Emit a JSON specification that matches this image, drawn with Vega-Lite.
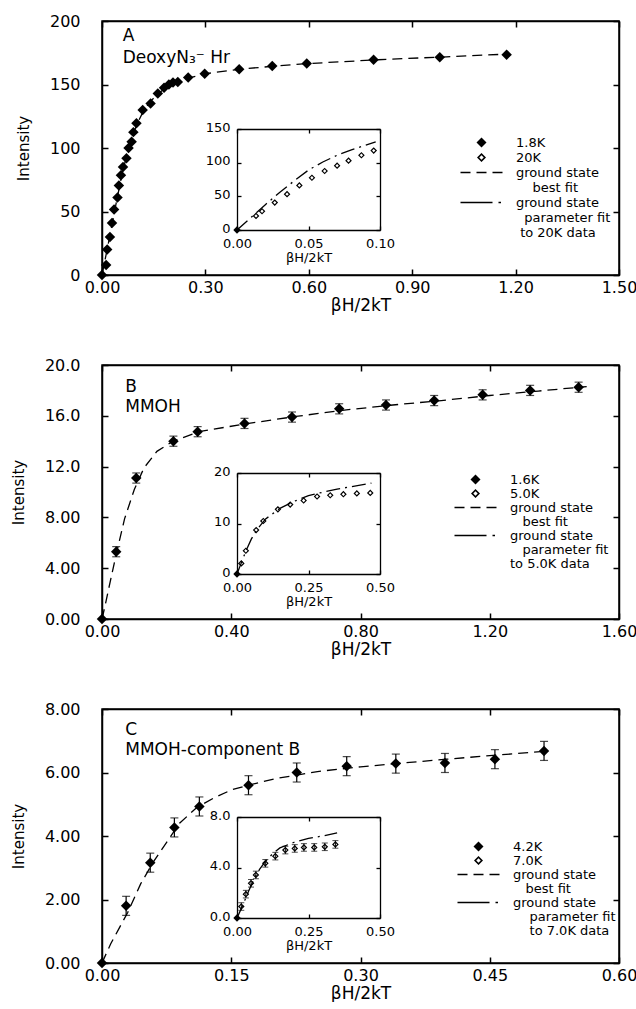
{
  "$schema": "https://vega.github.io/schema/vega-lite/v6.json",
  "padding": {"left": 10, "top": 12, "right": 0, "bottom": 0},
  "datasets": {
    "A_main": [
      {"x":0,"y":0,"series":"1.8K"},{"x":0.012,"y":7.8,"series":"1.8K"},{"x":0.015,"y":20,"series":"1.8K"},{"x":0.023,"y":30,"series":"1.8K"},
      {"x":0.029,"y":41,"series":"1.8K"},{"x":0.035,"y":51.5,"series":"1.8K"},{"x":0.045,"y":61,"series":"1.8K"},{"x":0.049,"y":70.5,"series":"1.8K"},
      {"x":0.055,"y":78.5,"series":"1.8K"},{"x":0.061,"y":85,"series":"1.8K"},{"x":0.071,"y":92,"series":"1.8K"},{"x":0.077,"y":100,"series":"1.8K"},
      {"x":0.086,"y":105,"series":"1.8K"},{"x":0.091,"y":112.5,"series":"1.8K"},{"x":0.1,"y":119.5,"series":"1.8K"},{"x":0.118,"y":130,"series":"1.8K"},
      {"x":0.141,"y":135,"series":"1.8K"},{"x":0.162,"y":143,"series":"1.8K"},{"x":0.18,"y":147.5,"series":"1.8K"},{"x":0.194,"y":150,"series":"1.8K"},
      {"x":0.206,"y":151.5,"series":"1.8K"},{"x":0.22,"y":152,"series":"1.8K"},{"x":0.25,"y":155.5,"series":"1.8K"},{"x":0.298,"y":158.5,"series":"1.8K"},
      {"x":0.398,"y":162,"series":"1.8K"},{"x":0.494,"y":164.5,"series":"1.8K"},{"x":0.594,"y":166.5,"series":"1.8K"},{"x":0.788,"y":169.5,"series":"1.8K"},
      {"x":0.98,"y":171.5,"series":"1.8K"},{"x":1.174,"y":173.5,"series":"1.8K"}
    ],
    "A_fit": [
      {"x":0,"y":0},{"x":0.02,"y":27},{"x":0.04,"y":55},{"x":0.06,"y":82},{"x":0.08,"y":102},{"x":0.1,"y":118},{"x":0.12,"y":129},
      {"x":0.14,"y":136.5},{"x":0.16,"y":142},{"x":0.18,"y":146.5},{"x":0.2,"y":150},{"x":0.25,"y":155},{"x":0.3,"y":158.5},{"x":0.4,"y":162},
      {"x":0.5,"y":164.5},{"x":0.6,"y":166.5},{"x":0.8,"y":169.5},{"x":1.0,"y":171.8},{"x":1.18,"y":174}
    ],
    "A_inset": [
      {"x":0,"y":0,"series":"1.8K"},{"x":0.0133,"y":20.9,"series":"20K"},{"x":0.0175,"y":27.9,"series":"20K"},{"x":0.0264,"y":40.7,"series":"20K"},
      {"x":0.035,"y":53.2,"series":"20K"},{"x":0.0436,"y":66.2,"series":"20K"},{"x":0.0524,"y":77.6,"series":"20K"},{"x":0.0613,"y":87.6,"series":"20K"},
      {"x":0.07,"y":95.5,"series":"20K"},{"x":0.078,"y":103,"series":"20K"},{"x":0.087,"y":111,"series":"20K"},{"x":0.0956,"y":118,"series":"20K"}
    ],
    "A_param": [
      {"x":0,"y":0},{"x":0.01,"y":19},{"x":0.02,"y":38},{"x":0.03,"y":56},{"x":0.04,"y":73},{"x":0.05,"y":89},{"x":0.06,"y":101},
      {"x":0.07,"y":111},{"x":0.08,"y":119},{"x":0.09,"y":126},{"x":0.097,"y":131}
    ],
    "B_main": [
      {"x":0,"y":0,"series":"1.6K"},
      {"x":0.044,"y":5.3,"lo":4.9,"hi":5.7,"series":"1.6K"},{"x":0.106,"y":11.1,"lo":10.7,"hi":11.5,"series":"1.6K"},
      {"x":0.221,"y":14.0,"lo":13.6,"hi":14.4,"series":"1.6K"},{"x":0.296,"y":14.75,"lo":14.35,"hi":15.15,"series":"1.6K"},
      {"x":0.441,"y":15.4,"lo":15.0,"hi":15.8,"series":"1.6K"},{"x":0.588,"y":15.9,"lo":15.5,"hi":16.3,"series":"1.6K"},
      {"x":0.734,"y":16.55,"lo":16.15,"hi":16.95,"series":"1.6K"},{"x":0.879,"y":16.85,"lo":16.45,"hi":17.25,"series":"1.6K"},
      {"x":1.028,"y":17.2,"lo":16.8,"hi":17.6,"series":"1.6K"},{"x":1.178,"y":17.65,"lo":17.25,"hi":18.05,"series":"1.6K"},
      {"x":1.325,"y":18.0,"lo":17.6,"hi":18.4,"series":"1.6K"},{"x":1.475,"y":18.25,"lo":17.85,"hi":18.65,"series":"1.6K"}
    ],
    "B_fit": [
      {"x":0,"y":0},{"x":0.01,"y":1.1},{"x":0.02,"y":2.3},{"x":0.044,"y":5.1},{"x":0.07,"y":7.9},{"x":0.1,"y":10.2},{"x":0.13,"y":11.9},
      {"x":0.17,"y":13.2},{"x":0.22,"y":14.0},{"x":0.3,"y":14.75},{"x":0.44,"y":15.35},{"x":0.6,"y":15.95},{"x":0.75,"y":16.45},
      {"x":0.9,"y":16.85},{"x":1.05,"y":17.2},{"x":1.2,"y":17.6},{"x":1.35,"y":17.95},{"x":1.5,"y":18.3}
    ],
    "B_inset": [
      {"x":0,"y":0,"series":"1.6K"},{"x":0.015,"y":2.1,"series":"5.0K"},{"x":0.031,"y":4.6,"series":"5.0K"},{"x":0.067,"y":8.7,"series":"5.0K"},
      {"x":0.092,"y":10.5,"series":"5.0K"},{"x":0.143,"y":12.8,"series":"5.0K"},{"x":0.186,"y":13.75,"series":"5.0K"},{"x":0.233,"y":14.55,"series":"5.0K"},
      {"x":0.28,"y":15.35,"series":"5.0K"},{"x":0.326,"y":15.6,"series":"5.0K"},{"x":0.372,"y":15.8,"series":"5.0K"},{"x":0.419,"y":15.95,"series":"5.0K"},
      {"x":0.466,"y":16.05,"series":"5.0K"}
    ],
    "B_param": [
      {"x":0,"y":0},{"x":0.015,"y":2.2},{"x":0.03,"y":4.4},{"x":0.05,"y":6.9},{"x":0.07,"y":8.8},{"x":0.1,"y":10.9},{"x":0.15,"y":13.0},
      {"x":0.2,"y":14.4},{"x":0.25,"y":15.5},{"x":0.3,"y":16.2},{"x":0.35,"y":16.8},{"x":0.4,"y":17.3},{"x":0.47,"y":18.0}
    ],
    "C_main": [
      {"x":0,"y":0,"series":"4.2K"},
      {"x":0.028,"y":1.8,"lo":1.5,"hi":2.1,"series":"4.2K"},{"x":0.056,"y":3.16,"lo":2.86,"hi":3.46,"series":"4.2K"},
      {"x":0.084,"y":4.27,"lo":3.97,"hi":4.57,"series":"4.2K"},{"x":0.113,"y":4.93,"lo":4.63,"hi":5.23,"series":"4.2K"},
      {"x":0.17,"y":5.6,"lo":5.3,"hi":5.9,"series":"4.2K"},{"x":0.226,"y":6.0,"lo":5.7,"hi":6.3,"series":"4.2K"},
      {"x":0.284,"y":6.2,"lo":5.9,"hi":6.5,"series":"4.2K"},{"x":0.341,"y":6.28,"lo":5.98,"hi":6.58,"series":"4.2K"},
      {"x":0.398,"y":6.3,"lo":6.0,"hi":6.6,"series":"4.2K"},{"x":0.456,"y":6.42,"lo":6.12,"hi":6.72,"series":"4.2K"},
      {"x":0.513,"y":6.68,"lo":6.38,"hi":6.98,"series":"4.2K"}
    ],
    "C_fit": [
      {"x":0,"y":0},{"x":0.01,"y":0.6},{"x":0.02,"y":1.1},{"x":0.03,"y":1.6},{"x":0.045,"y":2.5},{"x":0.06,"y":3.2},{"x":0.075,"y":3.8},
      {"x":0.09,"y":4.4},{"x":0.11,"y":4.9},{"x":0.13,"y":5.2},{"x":0.15,"y":5.45},{"x":0.17,"y":5.6},{"x":0.2,"y":5.8},{"x":0.25,"y":6.03},
      {"x":0.3,"y":6.18},{"x":0.35,"y":6.3},{"x":0.4,"y":6.42},{"x":0.45,"y":6.53},{"x":0.515,"y":6.67}
    ],
    "C_inset": [
      {"x":0,"y":0,"series":"4.2K"},
      {"x":0.015,"y":0.91,"lo":0.61,"hi":1.21,"series":"7.0K"},{"x":0.031,"y":1.89,"lo":1.59,"hi":2.19,"series":"7.0K"},
      {"x":0.049,"y":2.75,"lo":2.45,"hi":3.05,"series":"7.0K"},{"x":0.066,"y":3.41,"lo":3.11,"hi":3.71,"series":"7.0K"},
      {"x":0.099,"y":4.33,"lo":4.03,"hi":4.63,"series":"7.0K"},{"x":0.134,"y":4.9,"lo":4.6,"hi":5.2,"series":"7.0K"},
      {"x":0.169,"y":5.38,"lo":5.08,"hi":5.68,"series":"7.0K"},{"x":0.202,"y":5.51,"lo":5.21,"hi":5.81,"series":"7.0K"},
      {"x":0.234,"y":5.59,"lo":5.29,"hi":5.89,"series":"7.0K"},{"x":0.27,"y":5.59,"lo":5.29,"hi":5.89,"series":"7.0K"},
      {"x":0.307,"y":5.64,"lo":5.34,"hi":5.94,"series":"7.0K"},{"x":0.344,"y":5.83,"lo":5.53,"hi":6.13,"series":"7.0K"}
    ],
    "C_param": [
      {"x":0,"y":0},{"x":0.02,"y":1.0},{"x":0.04,"y":2.1},{"x":0.06,"y":3.1},{"x":0.08,"y":3.9},{"x":0.1,"y":4.5},{"x":0.125,"y":5.1},
      {"x":0.15,"y":5.55},{"x":0.2,"y":6.0},{"x":0.25,"y":6.3},{"x":0.3,"y":6.5},{"x":0.35,"y":6.75}
    ]
  },
  "vconcat": [
    {
      "width": 517, "height": 254,
      "resolve": {"scale": {"x": "independent", "y": "independent"}, "axis": {"x": "independent", "y": "independent"}},
      "layer": [
        {
          "resolve": {"axis": {"x": "independent", "y": "independent"}},
          "layer": [
            {
              "data": {"name": "A_fit"},
              "mark": {"type": "line", "stroke": "black", "strokeWidth": 1.3, "strokeDash": [10, 6]},
              "encoding": {
                "x": {"field": "x", "type": "quantitative", "scale": {"domain": [0, 1.5], "nice": false, "zero": false},
                      "axis": {"orient": "bottom", "values": [0, 0.3, 0.6, 0.9, 1.2, 1.5], "format": ".2f", "title": "βH/2kT"}},
                "y": {"field": "y", "type": "quantitative", "scale": {"domain": [0, 200], "nice": false, "zero": false},
                      "axis": {"orient": "left", "values": [0, 50, 100, 150, 200], "format": "d", "title": "Intensity", "titleFontSize": 15}}
              }
            },
            {
              "data": {"name": "A_main"},
              "mark": {"type": "point", "filled": true, "color": "black", "strokeWidth": 0, "opacity": 1, "size": 110},
              "encoding": {
                "x": {"field": "x", "type": "quantitative", "scale": {"domain": [0, 1.5], "nice": false, "zero": false},
                      "axis": {"orient": "top", "values": [0, 0.3, 0.6, 0.9, 1.2, 1.5], "labels": false, "title": null}},
                "y": {"field": "y", "type": "quantitative", "scale": {"domain": [0, 200], "nice": false, "zero": false},
                      "axis": {"orient": "right", "values": [0, 50, 100, 150, 200], "labels": false, "title": null}},
                "shape": {"field": "series", "type": "nominal",
                          "scale": {"domain": ["1.8K", "20K", "ground state", "\u200b\u00a0\u00a0\u00a0\u00a0best fit", "ground state\u200b", "\u200b\u00a0\u00a0parameter fit", "\u200b\u00a0to 20K data"],
                                    "range": ["M0,-1L1,0L0,1L-1,0Z", "M0,-0.9L0.9,0L0,0.9L-0.9,0Z M0,-0.45L-0.45,0L0,0.45L0.45,0Z", "M-4.2,-0.14H-2.2V0.14H-4.2Z M-1,-0.14H1V0.14H-1Z M2.2,-0.14H4.2V0.14H2.2Z", "M0,0", "M-4.2,-0.14H2.2V0.14H-4.2Z M3.4,-0.14H3.9V0.14H3.4Z", "M0,0", "M0,0"]},
                          "legend": {"title": null, "orient": "none", "legendX": 373, "legendY": 115, "rowPadding": 1, "symbolStrokeWidth": 0, "symbolFillColor": "black"}}
              }
            },
            {
              "data": {"values": [{}]},
              "mark": {"type": "text", "align": "left", "baseline": "top", "fontSize": 17, "lineHeight": 22, "font": "DejaVu Sans", "color": "black"},
              "encoding": {
                "x": {"datum": 0.06, "type": "quantitative", "scale": {"domain": [0, 1.5], "nice": false, "zero": false}, "axis": null},
                "y": {"datum": 194.5, "type": "quantitative", "scale": {"domain": [0, 200], "nice": false, "zero": false}, "axis": null},
                "text": {"value": ["A", "DeoxyN₃⁻  Hr"]}
              }
            }
          ]
        },
        {
          "resolve": {"axis": {"x": "independent", "y": "independent"}},
          "layer": [
            {
              "data": {"name": "A_param"},
              "mark": {"type": "line", "stroke": "black", "strokeWidth": 1.3, "strokeDash": [14, 5, 2, 5]},
              "encoding": {
                "x": {"field": "x", "type": "quantitative", "scale": {"domain": [0, 0.1], "range": [135, 278], "nice": false, "zero": false},
                      "axis": {"orient": "top", "offset": -108, "values": [0, 0.05, 0.1], "labels": false, "title": null, "tickSize": -4, "domainWidth": 1.3, "tickWidth": 1.3}},
                "y": {"field": "y", "type": "quantitative", "scale": {"domain": [0, 150], "range": [209, 108], "nice": false, "zero": false},
                      "axis": {"orient": "right", "offset": -239, "values": [0, 50, 100, 150], "labels": false, "title": null, "tickSize": -4, "domainWidth": 1.3, "tickWidth": 1.3}}
              }
            },
            {
              "data": {"name": "A_inset"},
              "mark": {"type": "point", "filled": true, "color": "black", "strokeWidth": 0, "opacity": 1, "size": 55},
              "encoding": {
                "x": {"field": "x", "type": "quantitative", "scale": {"domain": [0, 0.1], "range": [135, 278], "nice": false, "zero": false},
                      "axis": {"orient": "bottom", "offset": -45, "values": [0, 0.05, 0.1], "format": ".2f", "title": "βH/2kT", "titleFontSize": 13, "titlePadding": 1, "labelFontSize": 13, "labelPadding": 11, "tickSize": -4, "domainWidth": 1.3, "tickWidth": 1.3}},
                "y": {"field": "y", "type": "quantitative", "scale": {"domain": [0, 150], "range": [209, 108], "nice": false, "zero": false},
                      "axis": {"orient": "left", "offset": -135, "values": [0, 50, 100, 150], "format": "d", "title": null, "labelFontSize": 13, "labelPadding": 11, "labelOffset": -2, "tickSize": -4, "domainWidth": 1.3, "tickWidth": 1.3}},
                "shape": {"field": "series", "type": "nominal",
                          "scale": {"domain": ["1.8K", "20K", "ground state", "\u200b\u00a0\u00a0\u00a0\u00a0best fit", "ground state\u200b", "\u200b\u00a0\u00a0parameter fit", "\u200b\u00a0to 20K data"],
                                    "range": ["M0,-1L1,0L0,1L-1,0Z", "M0,-0.9L0.9,0L0,0.9L-0.9,0Z M0,-0.45L-0.45,0L0,0.45L0.45,0Z", "M-4.2,-0.14H-2.2V0.14H-4.2Z M-1,-0.14H1V0.14H-1Z M2.2,-0.14H4.2V0.14H2.2Z", "M0,0", "M-4.2,-0.14H2.2V0.14H-4.2Z M3.4,-0.14H3.9V0.14H3.4Z", "M0,0", "M0,0"]},
                          "legend": {"title": null, "orient": "none", "legendX": 373, "legendY": 115, "rowPadding": 1, "symbolStrokeWidth": 0, "symbolFillColor": "black"}}
              }
            }
          ]
        }
      ]
    },
    {
      "width": 517, "height": 254,
      "resolve": {"scale": {"x": "independent", "y": "independent"}, "axis": {"x": "independent", "y": "independent"}},
      "layer": [
        {
          "resolve": {"axis": {"x": "independent", "y": "independent"}},
          "layer": [
            {
              "data": {"name": "B_fit"},
              "mark": {"type": "line", "stroke": "black", "strokeWidth": 1.3, "strokeDash": [10, 6]},
              "encoding": {
                "x": {"field": "x", "type": "quantitative", "scale": {"domain": [0, 1.6], "nice": false, "zero": false},
                      "axis": {"orient": "bottom", "values": [0, 0.4, 0.8, 1.2, 1.6], "format": ".2f", "title": "βH/2kT"}},
                "y": {"field": "y", "type": "quantitative", "scale": {"domain": [0, 20], "nice": false, "zero": false},
                      "axis": {"orient": "left", "values": [0, 4, 8, 12, 16, 20], "labelExpr": "datum.value >= 10 ? format(datum.value, '.1f') : format(datum.value, '.2f')", "title": "Intensity", "titleFontSize": 15}}
              }
            },
            {
              "data": {"name": "B_main"},
              "mark": {"type": "rule", "stroke": "black", "strokeWidth": 1.2},
              "encoding": {
                "x": {"field": "x", "type": "quantitative", "scale": {"domain": [0, 1.6], "nice": false, "zero": false}, "axis": null},
                "y": {"field": "lo", "type": "quantitative", "scale": {"domain": [0, 20], "nice": false, "zero": false}, "axis": null},
                "y2": {"field": "hi"}
              }
            },
            {
              "data": {"name": "B_main"},
              "mark": {"type": "tick", "orient": "horizontal", "color": "black", "size": 8, "thickness": 1.2},
              "encoding": {
                "x": {"field": "x", "type": "quantitative", "scale": {"domain": [0, 1.6], "nice": false, "zero": false}, "axis": null},
                "y": {"field": "lo", "type": "quantitative", "scale": {"domain": [0, 20], "nice": false, "zero": false}, "axis": null}
              }
            },
            {
              "data": {"name": "B_main"},
              "mark": {"type": "tick", "orient": "horizontal", "color": "black", "size": 8, "thickness": 1.2},
              "encoding": {
                "x": {"field": "x", "type": "quantitative", "scale": {"domain": [0, 1.6], "nice": false, "zero": false}, "axis": null},
                "y": {"field": "hi", "type": "quantitative", "scale": {"domain": [0, 20], "nice": false, "zero": false}, "axis": null}
              }
            },
            {
              "data": {"name": "B_main"},
              "mark": {"type": "point", "filled": true, "color": "black", "strokeWidth": 0, "opacity": 1, "size": 110},
              "encoding": {
                "x": {"field": "x", "type": "quantitative", "scale": {"domain": [0, 1.6], "nice": false, "zero": false},
                      "axis": {"orient": "top", "values": [0, 0.4, 0.8, 1.2, 1.6], "labels": false, "title": null}},
                "y": {"field": "y", "type": "quantitative", "scale": {"domain": [0, 20], "nice": false, "zero": false},
                      "axis": {"orient": "right", "values": [0, 4, 8, 12, 16, 20], "labels": false, "title": null}},
                "shape": {"field": "series", "type": "nominal",
                          "scale": {"domain": ["1.6K", "5.0K", "ground state", "\u200b\u00a0\u00a0\u00a0best fit", "ground state\u200b", "\u200b\u00a0\u00a0\u00a0parameter fit", "to 5.0K data"],
                                    "range": ["M0,-1L1,0L0,1L-1,0Z", "M0,-0.9L0.9,0L0,0.9L-0.9,0Z M0,-0.45L-0.45,0L0,0.45L0.45,0Z", "M-4.2,-0.14H-2.2V0.14H-4.2Z M-1,-0.14H1V0.14H-1Z M2.2,-0.14H4.2V0.14H2.2Z", "M0,0", "M-4.2,-0.14H2.2V0.14H-4.2Z M3.4,-0.14H3.9V0.14H3.4Z", "M0,0", "M0,0"]},
                          "legend": {"title": null, "orient": "none", "legendX": 367, "legendY": 108, "rowPadding": 0, "symbolStrokeWidth": 0, "symbolFillColor": "black"}}
              }
            },
            {
              "data": {"values": [{}]},
              "mark": {"type": "text", "align": "left", "baseline": "top", "fontSize": 17, "lineHeight": 20, "font": "DejaVu Sans", "color": "black"},
              "encoding": {
                "x": {"datum": 0.072, "type": "quantitative", "scale": {"domain": [0, 1.6], "nice": false, "zero": false}, "axis": null},
                "y": {"datum": 18.87, "type": "quantitative", "scale": {"domain": [0, 20], "nice": false, "zero": false}, "axis": null},
                "text": {"value": ["B", "MMOH"]}
              }
            }
          ]
        },
        {
          "resolve": {"axis": {"x": "independent", "y": "independent"}},
          "layer": [
            {
              "data": {"name": "B_param"},
              "mark": {"type": "line", "stroke": "black", "strokeWidth": 1.3, "strokeDash": [14, 5, 2, 5]},
              "encoding": {
                "x": {"field": "x", "type": "quantitative", "scale": {"domain": [0, 0.5], "range": [135, 278], "nice": false, "zero": false},
                      "axis": {"orient": "top", "offset": -108, "values": [0, 0.25, 0.5], "labels": false, "title": null, "tickSize": -4, "domainWidth": 1.3, "tickWidth": 1.3}},
                "y": {"field": "y", "type": "quantitative", "scale": {"domain": [0, 20], "range": [209, 108], "nice": false, "zero": false},
                      "axis": {"orient": "right", "offset": -239, "values": [0, 10, 20], "labels": false, "title": null, "tickSize": -4, "domainWidth": 1.3, "tickWidth": 1.3}}
              }
            },
            {
              "data": {"name": "B_inset"},
              "mark": {"type": "point", "filled": true, "color": "black", "strokeWidth": 0, "opacity": 1, "size": 55},
              "encoding": {
                "x": {"field": "x", "type": "quantitative", "scale": {"domain": [0, 0.5], "range": [135, 278], "nice": false, "zero": false},
                      "axis": {"orient": "bottom", "offset": -45, "values": [0, 0.25, 0.5], "format": ".2f", "title": "βH/2kT", "titleFontSize": 13, "titlePadding": 1, "labelFontSize": 13, "labelPadding": 11, "tickSize": -4, "domainWidth": 1.3, "tickWidth": 1.3}},
                "y": {"field": "y", "type": "quantitative", "scale": {"domain": [0, 20], "range": [209, 108], "nice": false, "zero": false},
                      "axis": {"orient": "left", "offset": -135, "values": [0, 10, 20], "format": "d", "title": null, "labelFontSize": 13, "labelPadding": 11, "labelOffset": -2, "tickSize": -4, "domainWidth": 1.3, "tickWidth": 1.3}},
                "shape": {"field": "series", "type": "nominal",
                          "scale": {"domain": ["1.6K", "5.0K", "ground state", "\u200b\u00a0\u00a0\u00a0best fit", "ground state\u200b", "\u200b\u00a0\u00a0\u00a0parameter fit", "to 5.0K data"],
                                    "range": ["M0,-1L1,0L0,1L-1,0Z", "M0,-0.9L0.9,0L0,0.9L-0.9,0Z M0,-0.45L-0.45,0L0,0.45L0.45,0Z", "M-4.2,-0.14H-2.2V0.14H-4.2Z M-1,-0.14H1V0.14H-1Z M2.2,-0.14H4.2V0.14H2.2Z", "M0,0", "M-4.2,-0.14H2.2V0.14H-4.2Z M3.4,-0.14H3.9V0.14H3.4Z", "M0,0", "M0,0"]},
                          "legend": {"title": null, "orient": "none", "legendX": 367, "legendY": 108, "rowPadding": 0, "symbolStrokeWidth": 0, "symbolFillColor": "black"}}
              }
            }
          ]
        }
      ]
    },
    {
      "width": 517, "height": 254,
      "resolve": {"scale": {"x": "independent", "y": "independent"}, "axis": {"x": "independent", "y": "independent"}},
      "layer": [
        {
          "resolve": {"axis": {"x": "independent", "y": "independent"}},
          "layer": [
            {
              "data": {"name": "C_fit"},
              "mark": {"type": "line", "stroke": "black", "strokeWidth": 1.3, "strokeDash": [10, 6]},
              "encoding": {
                "x": {"field": "x", "type": "quantitative", "scale": {"domain": [0, 0.6], "nice": false, "zero": false},
                      "axis": {"orient": "bottom", "values": [0, 0.15, 0.3, 0.45, 0.6], "format": ".2f", "title": "βH/2kT"}},
                "y": {"field": "y", "type": "quantitative", "scale": {"domain": [0, 8], "nice": false, "zero": false},
                      "axis": {"orient": "left", "values": [0, 2, 4, 6, 8], "format": ".2f", "title": "Intensity", "titleFontSize": 15}}
              }
            },
            {
              "data": {"name": "C_main"},
              "mark": {"type": "rule", "stroke": "black", "strokeWidth": 1.2},
              "encoding": {
                "x": {"field": "x", "type": "quantitative", "scale": {"domain": [0, 0.6], "nice": false, "zero": false}, "axis": null},
                "y": {"field": "lo", "type": "quantitative", "scale": {"domain": [0, 8], "nice": false, "zero": false}, "axis": null},
                "y2": {"field": "hi"}
              }
            },
            {
              "data": {"name": "C_main"},
              "mark": {"type": "tick", "orient": "horizontal", "color": "black", "size": 8, "thickness": 1.2},
              "encoding": {
                "x": {"field": "x", "type": "quantitative", "scale": {"domain": [0, 0.6], "nice": false, "zero": false}, "axis": null},
                "y": {"field": "lo", "type": "quantitative", "scale": {"domain": [0, 8], "nice": false, "zero": false}, "axis": null}
              }
            },
            {
              "data": {"name": "C_main"},
              "mark": {"type": "tick", "orient": "horizontal", "color": "black", "size": 8, "thickness": 1.2},
              "encoding": {
                "x": {"field": "x", "type": "quantitative", "scale": {"domain": [0, 0.6], "nice": false, "zero": false}, "axis": null},
                "y": {"field": "hi", "type": "quantitative", "scale": {"domain": [0, 8], "nice": false, "zero": false}, "axis": null}
              }
            },
            {
              "data": {"name": "C_main"},
              "mark": {"type": "point", "filled": true, "color": "black", "strokeWidth": 0, "opacity": 1, "size": 110},
              "encoding": {
                "x": {"field": "x", "type": "quantitative", "scale": {"domain": [0, 0.6], "nice": false, "zero": false},
                      "axis": {"orient": "top", "values": [0, 0.15, 0.3, 0.45, 0.6], "labels": false, "title": null}},
                "y": {"field": "y", "type": "quantitative", "scale": {"domain": [0, 8], "nice": false, "zero": false},
                      "axis": {"orient": "right", "values": [0, 2, 4, 6, 8], "labels": false, "title": null}},
                "shape": {"field": "series", "type": "nominal",
                          "scale": {"domain": ["4.2K", "7.0K", "ground state", "\u200b\u00a0\u00a0\u00a0best fit", "ground state\u200b", "\u200b\u00a0\u00a0\u00a0\u00a0parameter fit", "\u200b\u00a0\u00a0\u00a0\u00a0to 7.0K data"],
                                    "range": ["M0,-1L1,0L0,1L-1,0Z", "M0,-0.9L0.9,0L0,0.9L-0.9,0Z M0,-0.45L-0.45,0L0,0.45L0.45,0Z", "M-4.2,-0.14H-2.2V0.14H-4.2Z M-1,-0.14H1V0.14H-1Z M2.2,-0.14H4.2V0.14H2.2Z", "M0,0", "M-4.2,-0.14H2.2V0.14H-4.2Z M3.4,-0.14H3.9V0.14H3.4Z", "M0,0", "M0,0"]},
                          "legend": {"title": null, "orient": "none", "legendX": 370, "legendY": 131, "rowPadding": 0, "symbolStrokeWidth": 0, "symbolFillColor": "black"}}
              }
            },
            {
              "data": {"values": [{}]},
              "mark": {"type": "text", "align": "left", "baseline": "top", "fontSize": 17, "lineHeight": 20, "font": "DejaVu Sans", "color": "black"},
              "encoding": {
                "x": {"datum": 0.027, "type": "quantitative", "scale": {"domain": [0, 0.6], "nice": false, "zero": false}, "axis": null},
                "y": {"datum": 7.6, "type": "quantitative", "scale": {"domain": [0, 8], "nice": false, "zero": false}, "axis": null},
                "text": {"value": ["C", "MMOH-component B"]}
              }
            }
          ]
        },
        {
          "resolve": {"axis": {"x": "independent", "y": "independent"}},
          "layer": [
            {
              "data": {"name": "C_param"},
              "mark": {"type": "line", "stroke": "black", "strokeWidth": 1.3, "strokeDash": [14, 5, 2, 5]},
              "encoding": {
                "x": {"field": "x", "type": "quantitative", "scale": {"domain": [0, 0.5], "range": [135, 278], "nice": false, "zero": false},
                      "axis": {"orient": "top", "offset": -108, "values": [0, 0.25, 0.5], "labels": false, "title": null, "tickSize": -4, "domainWidth": 1.3, "tickWidth": 1.3}},
                "y": {"field": "y", "type": "quantitative", "scale": {"domain": [0, 8], "range": [209, 108], "nice": false, "zero": false},
                      "axis": {"orient": "right", "offset": -239, "values": [0, 4, 8], "labels": false, "title": null, "tickSize": -4, "domainWidth": 1.3, "tickWidth": 1.3}}
              }
            },
            {
              "data": {"name": "C_inset"},
              "mark": {"type": "rule", "stroke": "black", "strokeWidth": 1},
              "encoding": {
                "x": {"field": "x", "type": "quantitative", "scale": {"domain": [0, 0.5], "range": [135, 278], "nice": false, "zero": false}, "axis": null},
                "y": {"field": "lo", "type": "quantitative", "scale": {"domain": [0, 8], "range": [209, 108], "nice": false, "zero": false}, "axis": null},
                "y2": {"field": "hi"}
              }
            },
            {
              "data": {"name": "C_inset"},
              "mark": {"type": "tick", "orient": "horizontal", "color": "black", "size": 6, "thickness": 1},
              "encoding": {
                "x": {"field": "x", "type": "quantitative", "scale": {"domain": [0, 0.5], "range": [135, 278], "nice": false, "zero": false}, "axis": null},
                "y": {"field": "lo", "type": "quantitative", "scale": {"domain": [0, 8], "range": [209, 108], "nice": false, "zero": false}, "axis": null}
              }
            },
            {
              "data": {"name": "C_inset"},
              "mark": {"type": "tick", "orient": "horizontal", "color": "black", "size": 6, "thickness": 1},
              "encoding": {
                "x": {"field": "x", "type": "quantitative", "scale": {"domain": [0, 0.5], "range": [135, 278], "nice": false, "zero": false}, "axis": null},
                "y": {"field": "hi", "type": "quantitative", "scale": {"domain": [0, 8], "range": [209, 108], "nice": false, "zero": false}, "axis": null}
              }
            },
            {
              "data": {"name": "C_inset"},
              "mark": {"type": "point", "filled": true, "color": "black", "strokeWidth": 0, "opacity": 1, "size": 55},
              "encoding": {
                "x": {"field": "x", "type": "quantitative", "scale": {"domain": [0, 0.5], "range": [135, 278], "nice": false, "zero": false},
                      "axis": {"orient": "bottom", "offset": -45, "values": [0, 0.25, 0.5], "format": ".2f", "title": "βH/2kT", "titleFontSize": 13, "titlePadding": 1, "labelFontSize": 13, "labelPadding": 11, "tickSize": -4, "domainWidth": 1.3, "tickWidth": 1.3}},
                "y": {"field": "y", "type": "quantitative", "scale": {"domain": [0, 8], "range": [209, 108], "nice": false, "zero": false},
                      "axis": {"orient": "left", "offset": -135, "values": [0, 4, 8], "format": ".1f", "title": null, "labelFontSize": 13, "labelPadding": 11, "labelOffset": -2, "tickSize": -4, "domainWidth": 1.3, "tickWidth": 1.3}},
                "shape": {"field": "series", "type": "nominal",
                          "scale": {"domain": ["4.2K", "7.0K", "ground state", "\u200b\u00a0\u00a0\u00a0best fit", "ground state\u200b", "\u200b\u00a0\u00a0\u00a0\u00a0parameter fit", "\u200b\u00a0\u00a0\u00a0\u00a0to 7.0K data"],
                                    "range": ["M0,-1L1,0L0,1L-1,0Z", "M0,-0.9L0.9,0L0,0.9L-0.9,0Z M0,-0.45L-0.45,0L0,0.45L0.45,0Z", "M-4.2,-0.14H-2.2V0.14H-4.2Z M-1,-0.14H1V0.14H-1Z M2.2,-0.14H4.2V0.14H2.2Z", "M0,0", "M-4.2,-0.14H2.2V0.14H-4.2Z M3.4,-0.14H3.9V0.14H3.4Z", "M0,0", "M0,0"]},
                          "legend": {"title": null, "orient": "none", "legendX": 370, "legendY": 131, "rowPadding": 0, "symbolStrokeWidth": 0, "symbolFillColor": "black"}}
              }
            }
          ]
        }
      ]
    }
  ],
  "spacing": 90,
  "bounds": "flush",
  "resolve": {
    "scale": {"shape": "independent"},
    "legend": {"shape": "independent"}
  },
  "config": {
    "font": "DejaVu Sans",
    "background": "white",
    "view": {"stroke": "black", "strokeWidth": 1.5},
    "axis": {
      "grid": false, "domainColor": "black", "domainWidth": 1.5, "tickColor": "black", "tickWidth": 1.5, "tickSize": -6,
      "labelColor": "black", "labelFont": "DejaVu Sans", "labelFontSize": 16, "labelFlush": false, "labelOverlap": false,
      "titleColor": "black", "titleFont": "DejaVu Sans", "titleFontWeight": "normal", "titleFontSize": 17
    },
    "axisBottom": {"labelPadding": 10, "titlePadding": 2},
    "axisLeft": {"labelPadding": 28, "titlePadding": 18},
    "legend": {
      "padding": 0, "symbolSize": 100,
      "labelFont": "DejaVu Sans", "labelFontSize": 13, "labelColor": "black", "labelOffset": 28, "labelLimit": 300
    }
  }
}
